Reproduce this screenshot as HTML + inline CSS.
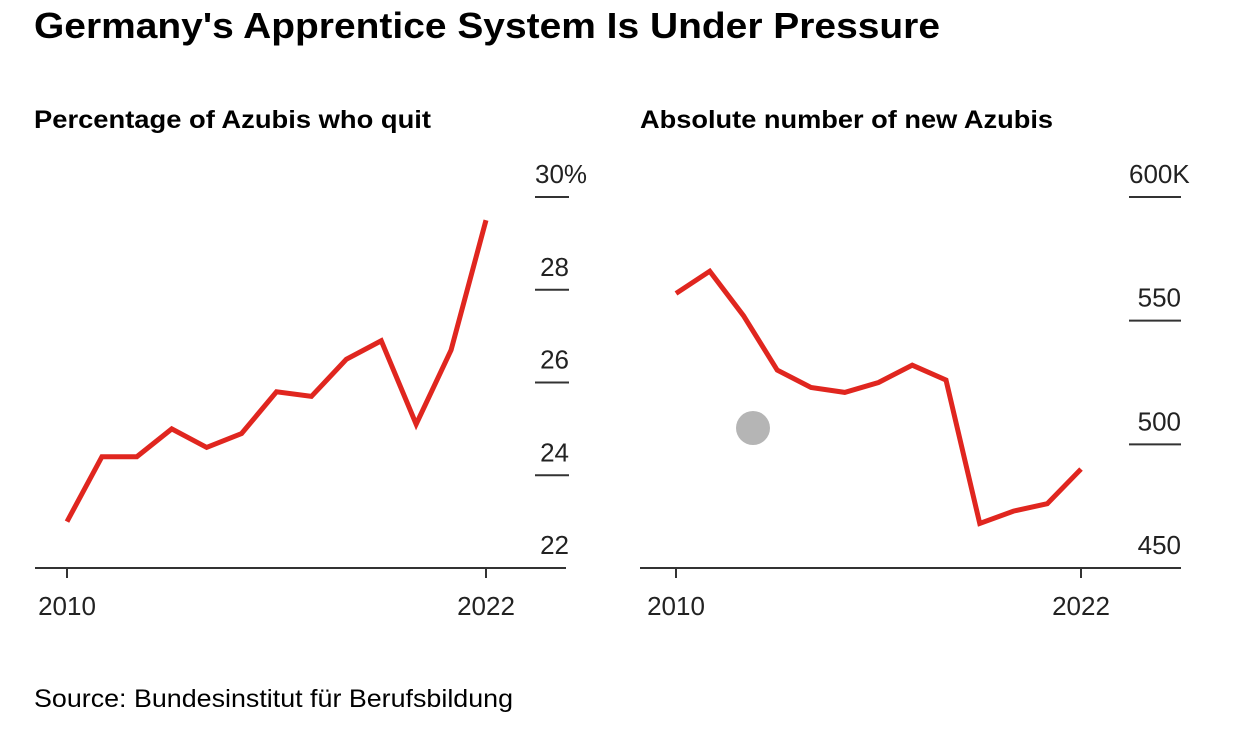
<!DOCTYPE html>
<html><head><meta charset="utf-8"><style>
body{margin:0;background:#fff;width:1256px;height:730px;overflow:hidden;font-family:"Liberation Sans",Arial,sans-serif;}
</style></head><body>
<svg width="1256" height="730" xmlns="http://www.w3.org/2000/svg" font-family="Liberation Sans, Arial, sans-serif">
<text x="34" y="38" font-size="36" font-weight="bold" fill="#000" textLength="906" lengthAdjust="spacingAndGlyphs">Germany's Apprentice System Is Under Pressure</text>
<text x="34" y="128" font-size="25" font-weight="bold" fill="#000" textLength="397" lengthAdjust="spacingAndGlyphs">Percentage of Azubis who quit</text>
<text x="640" y="128" font-size="25" font-weight="bold" fill="#000" textLength="413" lengthAdjust="spacingAndGlyphs">Absolute number of new Azubis</text>
<text x="34" y="707" font-size="25" fill="#000" textLength="479" lengthAdjust="spacingAndGlyphs">Source: Bundesinstitut für Berufsbildung</text>
<g id="left"></g>
<g id="right"></g>
<circle cx="753" cy="428" r="17" fill="#b5b5b5"/>
</svg>
<script>
const years = [2010,2011,2012,2013,2014,2015,2016,2017,2018,2019,2020,2021,2022];
const quitPct = [23.0,24.4,24.4,25.0,24.6,24.9,25.8,25.7,26.5,26.9,25.1,26.7,29.5];
const newAzubis = [561,570,552,530,523,521,525,532,526,468,473,476,490];
const leftTicks = [22,24,26,28,30];
const leftTickLabels = ["22","24","26","28","30%"];
const rightTicks = [450,500,550,600];
const rightTickLabels = ["450","500","550","600K"];
const xLabels = [2010,2022];
const NS="http://www.w3.org/2000/svg";
function mk(p,t,a){const e=document.createElementNS(NS,t);for(const k in a)e.setAttribute(k,a[k]);p.appendChild(e);return e;}
function panel(g,cfg){
  const x=y=>cfg.x0+(y-years[0])*(cfg.x1-cfg.x0)/(years[years.length-1]-years[0]);
  const y=v=>cfg.yb-(v-cfg.vmin)*(cfg.yb-cfg.yt)/(cfg.vmax-cfg.vmin);
  const ax=mk(g,'line',{x1:cfg.ax0,x2:cfg.ax1,y1:cfg.yb,y2:cfg.yb,stroke:'#333','stroke-width':2});
  
  
  cfg.ticks.forEach((t,i)=>{
    if(t!==cfg.vmin){
      const l=mk(g,'line',{x1:cfg.tx0,x2:cfg.tx1,y1:y(t),y2:y(t),stroke:'#333','stroke-width':2});
      
      
    }
    const top=i===cfg.ticks.length-1;
    const tx=mk(g,'text',{x:top?cfg.tx0:cfg.tx1,y:y(t)-14,'font-size':26,fill:'#222','text-anchor':top?'start':'end'});
    tx.textContent=cfg.labels[i];
    
    
  });
  xLabels.forEach(yr=>{
    const tk=mk(g,'line',{x1:x(yr),x2:x(yr),y1:cfg.yb,y2:cfg.yb+10,stroke:'#333','stroke-width':2});
    
    
    const tl=mk(g,'text',{x:x(yr),y:cfg.yb+47,'font-size':26,fill:'#222','text-anchor':'middle'});
    tl.textContent=yr;
    
    
  });
  const pts=years.map((yr,i)=>x(yr)+','+y(cfg.vals[i])).join(' ');
  const pl=mk(g,'polyline',{points:pts,fill:'none',stroke:'#e0261f','stroke-width':5,'stroke-linejoin':'miter'});
  
  
}
panel(document.getElementById('left'),{x0:67,x1:486,yb:568,yt:197,vmin:22,vmax:30,ax0:35,ax1:566,tx0:535,tx1:569,ticks:leftTicks,labels:leftTickLabels,vals:quitPct});
panel(document.getElementById('right'),{x0:676,x1:1081,yb:568,yt:197,vmin:450,vmax:600,ax0:640,ax1:1181,tx0:1129,tx1:1181,ticks:rightTicks,labels:rightTickLabels,vals:newAzubis});
</script>
</body></html>
